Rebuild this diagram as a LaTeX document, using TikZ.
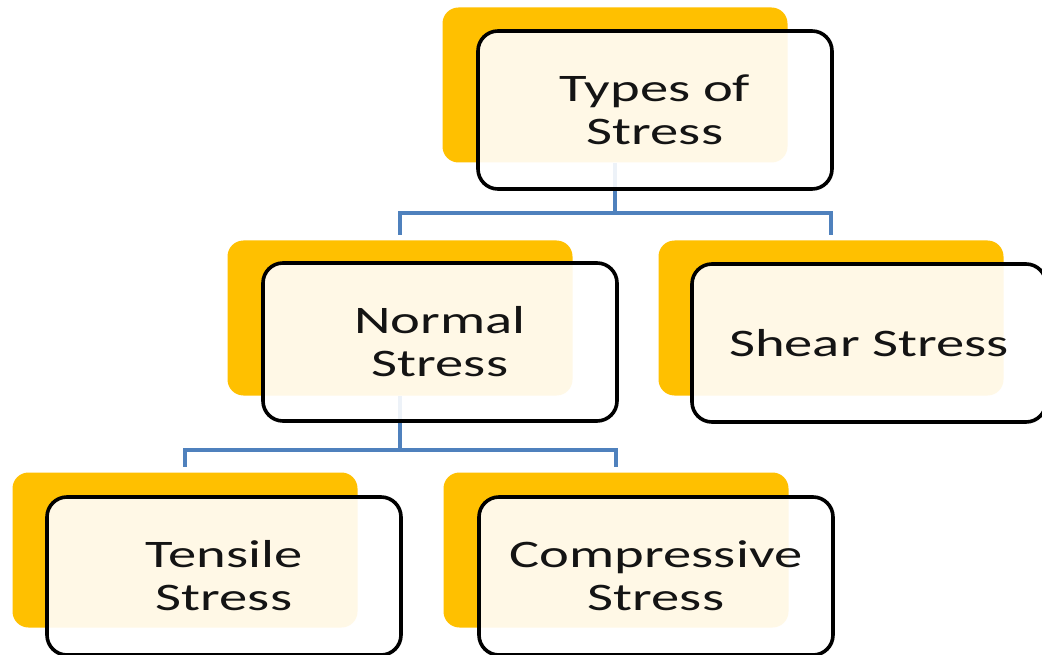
\documentclass[tikz,border=0pt]{standalone}
\usepackage{fontspec}
\setmainfont{Carlito}[FakeStretch=1.45]
\usetikzlibrary{calc}
\definecolor{gold}{RGB}{255,192,0}
\definecolor{connblue}{RGB}{79,129,189}
\definecolor{inktext}{RGB}{20,20,20}
\tikzset{
  goldbox/.style={fill=gold, draw=none, rounded corners=16pt,
    minimum width=345pt, minimum height=155pt, inner sep=0pt},
  frontbox/.style={draw=black, line width=3.6pt, fill=white, fill opacity=0.9,
    text opacity=1, rounded corners=20pt, minimum width=354pt, minimum height=158pt,
    inner sep=0pt, align=center, text=inktext,
    font=\fontsize{39}{43}\selectfont},
  conn/.style={draw=connblue, line width=4pt}
}
\begin{document}
\begin{tikzpicture}[x=1pt,y=-1pt]
\useasboundingbox (0,0) rectangle (1042,655);
\fill[white] (0,0) rectangle (1042,655);
% centres of the front boxes
\coordinate (ctop) at (655,110);
\coordinate (cnorm) at (440,342);
\coordinate (cshear) at (869,343);
\coordinate (ctens) at (224,576);
\coordinate (ccomp) at (656,576);
\coordinate (bus1) at (0,213);
\coordinate (bus2) at (0,450);
% gold back plates
\node[goldbox] (ytop) at ([shift={(-40,-25)}]ctop) {};
\node[goldbox] (ynorm) at ([shift={(-40,-24)}]cnorm) {};
\node[goldbox] (yshear) at ([shift={(-38,-25)}]cshear) {};
\node[goldbox] (ytens) at ([shift={(-39,-26)}]ctens) {};
\node[goldbox] (ycomp) at ([shift={(-40,-26)}]ccomp) {};
% connectors
\draw[conn] (ytop.south) -- (ytop.south |- bus1) -| ([yshift=5pt]ynorm.north);
\draw[conn] (ytop.south |- bus1) -| ([yshift=5pt]yshear.north);
\draw[conn] (ynorm.south) -- (ynorm.south |- bus2) -| ([yshift=5pt]ytens.north);
\draw[conn] (ynorm.south |- bus2) -| ([yshift=5pt]ycomp.north);
% front boxes
\node[frontbox] (top) at (ctop) {Types of\\Stress};
\node[frontbox] (norm) at (cnorm) {Normal\\Stress};
\node[frontbox] (shear) at (cshear) {Shear Stress};
\node[frontbox] (tens) at (ctens) {Tensile\\Stress};
\node[frontbox] (comp) at (ccomp) {Compressive\\Stress};
\end{tikzpicture}
\end{document}
